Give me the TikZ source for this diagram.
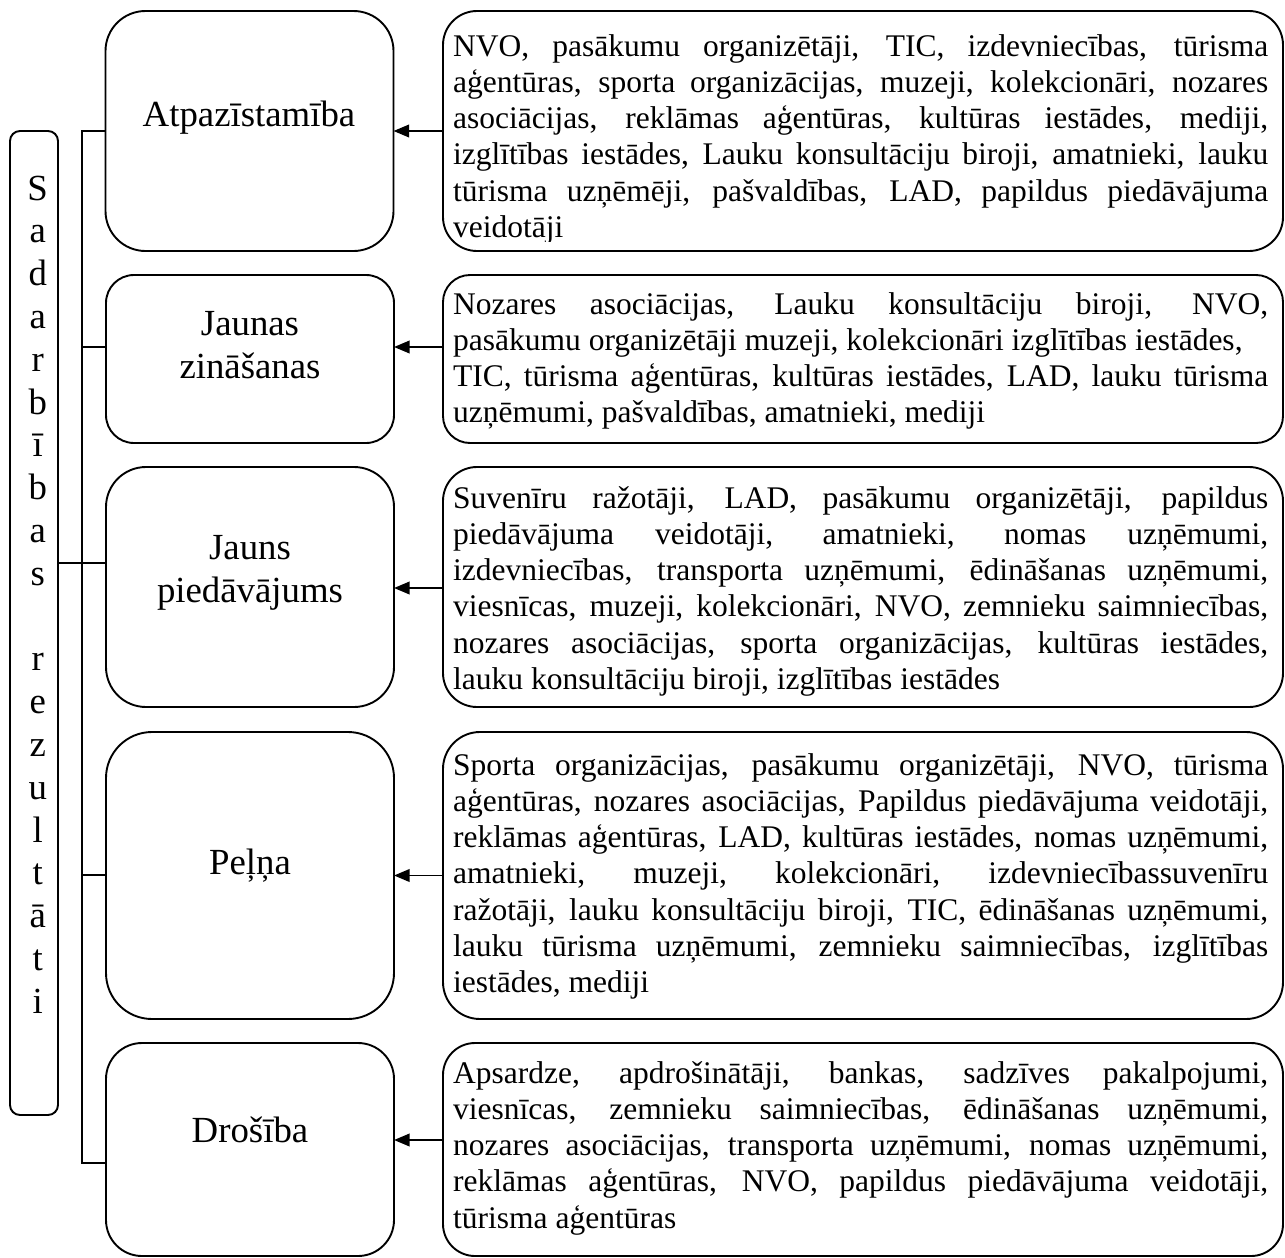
\documentclass[tikz,border=0pt]{standalone}
\usepackage{fontspec}
\setmainfont{Liberation Serif}
\usetikzlibrary{arrows.meta}
% one justified line of a list, and one centred letter of the vertical title
\newcommand\jline[1]{\hbox to 815pt{#1}}
\newcommand\lastline[1]{\hbox to 815pt{#1\hfil}}
\newcommand\cletter[1]{\hbox to 0pt{\hss#1\hss}}
\begin{document}
\begin{tikzpicture}[x=1pt,y=-1pt,
  frame/.style={draw, line width=1.9pt, inner sep=0pt, outer sep=0pt},
  lbox/.style={frame, minimum width=288pt},
  rbox/.style={frame, minimum width=840pt},
  wire/.style={line width=1.9pt},
  arr/.style={line width=1.9pt, -{Triangle[length=15.5pt,width=12.5pt]}},
  big/.style={font=\fontsize{36.8}{42.8}\selectfont, inner sep=0pt, anchor=base},
  list/.style={inner sep=0pt, anchor=base west},
]
\useasboundingbox (0,0) rectangle (1285,1258);

% vertical title bar
\node[frame, minimum width=48pt, minimum height=984pt, rounded corners=10pt] (B) at (34,623) {};
\node[inner sep=0pt, anchor=base west] (title) at (37,200) {\vtop{\fontsize{36.8}{42.8}\selectfont
  \cletter{S}\cletter{a}\cletter{d}\cletter{a}\cletter{r}\cletter{b}\cletter{ī}\cletter{b}\cletter{a}\cletter{s}%
  \cletter{}%
  \cletter{r}\cletter{e}\cletter{z}\cletter{u}\cletter{l}\cletter{t}\cletter{ā}\cletter{t}\cletter{i}}};

% result boxes (left column)
\node[lbox, minimum height=240pt, rounded corners=40pt] (L1) at (249.5,131) {};
\node[lbox, minimum height=168pt, rounded corners=28pt] (L2) at (250,359) {};
\node[lbox, minimum height=240pt, rounded corners=40pt] (L3) at (250,587) {};
\node[lbox, minimum height=287pt, rounded corners=46pt] (L4) at (250,875.5) {};
\node[lbox, minimum height=213pt, rounded corners=36pt] (L5) at (250,1149.5) {};

\node[big] (l1) at (249,126) {Atpazīstamība};
\node[big] (l2a) at (250,335) {Jaunas};
\node[big] (l2b) at (250,378) {zināšanas};
\node[big] (l3a) at (250,559) {Jauns};
\node[big] (l3b) at (250,602) {piedāvājums};
\node[big] (l4) at (250,874) {Peļņa};
\node[big] (l5) at (250,1142) {Drošība};

% partner boxes (right column)
\node[rbox, minimum height=240pt, rounded corners=34pt] (R1) at (863,131) {};
\node[rbox, minimum height=168pt, rounded corners=27pt] (R2) at (863,359) {};
\node[rbox, minimum height=240pt, rounded corners=34pt] (R3) at (863,587) {};
\node[rbox, minimum height=287pt, rounded corners=37pt] (R4) at (863,875.5) {};
\node[rbox, minimum height=213pt, rounded corners=32pt] (R5) at (863,1149.5) {};

% partner lists, cut off at the inner bottom margin of their box
\begin{scope}
\clip (R1.north west) rectangle ([yshift=9.5pt]R1.south east);
\node[list] (r1) at (453,56) {\vtop{\fontsize{31.5}{36.3}\selectfont
  \jline{NVO, pasākumu organizētāji, TIC, izdevniecības, tūrisma}
  \jline{aģentūras, sporta organizācijas, muzeji, kolekcionāri, nozares}
  \jline{asociācijas, reklāmas aģentūras, kultūras iestādes, mediji,}
  \jline{izglītības iestādes, Lauku konsultāciju biroji, amatnieki, lauku}
  \jline{tūrisma uzņēmēji, pašvaldības, LAD, papildus piedāvājuma}
  \lastline{veidotāji}}};
\end{scope}
\begin{scope}
\clip (R2.north west) rectangle ([yshift=9.5pt]R2.south east);
\node[list] (r2) at (453,314) {\vtop{\fontsize{31.5}{36.3}\selectfont
  \jline{Nozares asociācijas, Lauku konsultāciju biroji, NVO,}
  \lastline{pasākumu organizētāji muzeji, kolekcionāri izglītības iestādes,}
  \jline{TIC, tūrisma aģentūras, kultūras iestādes, LAD, lauku tūrisma}
  \lastline{uzņēmumi, pašvaldības, amatnieki, mediji}}};
\end{scope}
\begin{scope}
\clip (R3.north west) rectangle ([yshift=9.5pt]R3.south east);
\node[list] (r3) at (453,508) {\vtop{\fontsize{31.5}{36.3}\selectfont
  \jline{Suvenīru ražotāji, LAD, pasākumu organizētāji, papildus}
  \jline{piedāvājuma veidotāji, amatnieki, nomas uzņēmumi,}
  \jline{izdevniecības, transporta uzņēmumi, ēdināšanas uzņēmumi,}
  \jline{viesnīcas, muzeji, kolekcionāri, NVO, zemnieku saimniecības,}
  \jline{nozares asociācijas, sporta organizācijas, kultūras iestādes,}
  \lastline{lauku konsultāciju biroji, izglītības iestādes}}};
\end{scope}
\begin{scope}
\clip (R4.north west) rectangle ([yshift=9.5pt]R4.south east);
\node[list] (r4) at (453,775) {\vtop{\fontsize{31.5}{36.3}\selectfont
  \jline{Sporta organizācijas, pasākumu organizētāji, NVO, tūrisma}
  \jline{aģentūras, nozares asociācijas, Papildus piedāvājuma veidotāji,}
  \jline{reklāmas aģentūras, LAD, kultūras iestādes, nomas uzņēmumi,}
  \jline{amatnieki, muzeji, kolekcionāri, izdevniecībassuvenīru}
  \jline{ražotāji, lauku konsultāciju biroji, TIC, ēdināšanas uzņēmumi,}
  \jline{lauku tūrisma uzņēmumi, zemnieku saimniecības, izglītības}
  \lastline{iestādes, mediji}}};
\end{scope}
\begin{scope}
\clip (R5.north west) rectangle ([yshift=9.5pt]R5.south east);
\node[list] (r5) at (453,1083) {\vtop{\fontsize{31.5}{36.3}\selectfont
  \jline{Apsardze, apdrošinātāji, bankas, sadzīves pakalpojumi,}
  \jline{viesnīcas, zemnieku saimniecības, ēdināšanas uzņēmumi,}
  \jline{nozares asociācijas, transporta uzņēmumi, nomas uzņēmumi,}
  \jline{reklāmas aģentūras, NVO, papildus piedāvājuma veidotāji,}
  \lastline{tūrisma aģentūras}}};
\end{scope}

% trunk joining the result boxes
\coordinate (t1) at (82,131);
\coordinate (t2) at (82,347);
\coordinate (t3) at (82,563);
\coordinate (t4) at (82,875);
\coordinate (t5) at (82,1163);
\draw[wire] (L1.west) -- (t1) -- (t5) -- (L5.west |- t5);
\draw[wire] (t2) -- (L2.west |- t2);
\draw[wire] (B.east |- t3) -- (L3.west |- t3);
\draw[wire] (t4) -- (L4.west |- t4);

% arrows from each partner list to its result
\coordinate (a2) at (0,347);
\coordinate (a3) at (0,588);
\coordinate (a5) at (0,1140);
\draw[arr] (R1.west) -- (L1.east);
\draw[arr] (R2.west |- a2) -- (L2.east |- a2);
\draw[arr] (R3.west |- a3) -- (L3.east |- a3);
\draw[arr] (R4.west) -- (L4.east);
\draw[arr] (R5.west |- a5) -- (L5.east |- a5);
\end{tikzpicture}
\end{document}
